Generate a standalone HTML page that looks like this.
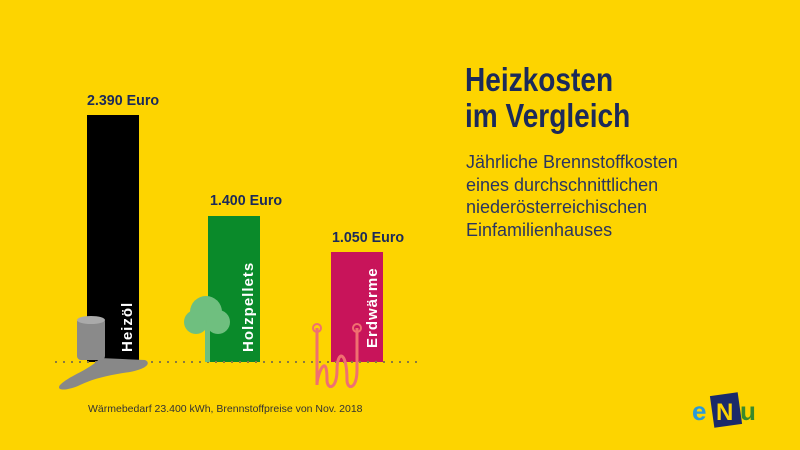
<!DOCTYPE html>
<html><head><style>
body{margin:0}
.c{position:relative;width:800px;height:450px;background:#fdd400;overflow:hidden;font-family:"Liberation Sans",sans-serif}
.b{position:absolute;bottom:88px;width:52px}
.v{position:absolute;font-weight:bold;font-size:15px;color:#1b2a5a;transform:scaleX(0.95);transform-origin:left}
.l{position:absolute;color:#fff;font-weight:bold;font-size:15px;transform:rotate(-90deg);transform-origin:left top;white-space:nowrap;letter-spacing:1px}
</style></head><body><div class="c">
<div class="b" style="left:87px;top:115px;background:#000"></div>
<div class="b" style="left:208px;top:216px;background:#0a8a2a"></div>
<div class="b" style="left:331px;top:252px;background:#c8145a"></div>
<div class="v" style="left:87px;top:92px">2.390 Euro</div>
<div class="v" style="left:210px;top:192px">1.400 Euro</div>
<div class="v" style="left:332px;top:229px">1.050 Euro</div>
<div class="l" style="left:119px;top:352px">Heizöl</div>
<div class="l" style="left:240px;top:352px">Holzpellets</div>
<div class="l" style="left:364px;top:348px">Erdwärme</div>
<svg width="800" height="450" style="position:absolute;left:0;top:0">
<line x1="55" y1="362" x2="420" y2="362" stroke="#8a7a40" stroke-width="2" stroke-dasharray="2 6"/>
<path d="M100 358 C90 370 70 375 60 385 C55 392 70 390 80 385 C95 378 110 375 130 372 C150 368 150 362 145 360 Z" fill="#888"/>
<rect x="77" y="318" width="28" height="42" rx="4" fill="#8a8a8a"/>
<ellipse cx="91" cy="320" rx="14" ry="4" fill="#aaa"/>
<circle cx="206" cy="312" r="16" fill="#6fbf7f"/><circle cx="196" cy="322" r="12" fill="#6fbf7f"/><circle cx="218" cy="322" r="12" fill="#6fbf7f"/>
<rect x="205" y="325" width="5" height="37" fill="#6fbf7f"/>
<path d="M317 328 V385 M317 385 C317 375 327 350 327 380 C327 390 337 390 337 370 C337 350 347 350 347 380 C347 390 357 390 357 370 V328" fill="none" stroke="#f07070" stroke-width="3"/>
<circle cx="317" cy="328" r="4" fill="none" stroke="#f07070" stroke-width="2"/>
<circle cx="357" cy="328" r="4" fill="none" stroke="#f07070" stroke-width="2"/>
<rect x="712" y="394" width="28" height="32" fill="#1b2a6a" transform="rotate(-8 726 410)"/>
<text x="692" y="420" font-family="Liberation Sans" font-weight="bold" font-size="26" fill="#2a9ad8">e</text>
<text x="716" y="420" font-family="Liberation Sans" font-weight="bold" font-size="24" fill="#fdd400">N</text>
<text x="740" y="420" font-family="Liberation Sans" font-weight="bold" font-size="26" fill="#3a8a2a">u</text>
</svg>
<div style="position:absolute;left:88px;top:403px;font-size:10.5px;color:#333">Wärmebedarf 23.400 kWh, Brennstoffpreise von Nov. 2018</div>
<div style="position:absolute;left:465px;top:62px;font-size:33px;font-weight:bold;line-height:36px;color:#1b2a5a;transform:scaleX(0.85);transform-origin:left">Heizkosten<br>im Vergleich</div>
<div style="position:absolute;left:466px;top:151px;font-size:18px;line-height:22.5px;color:#2a3560">Jährliche Brennstoffkosten<br>eines durchschnittlichen<br>niederösterreichischen<br>Einfamilienhauses</div>
</div></body></html>
